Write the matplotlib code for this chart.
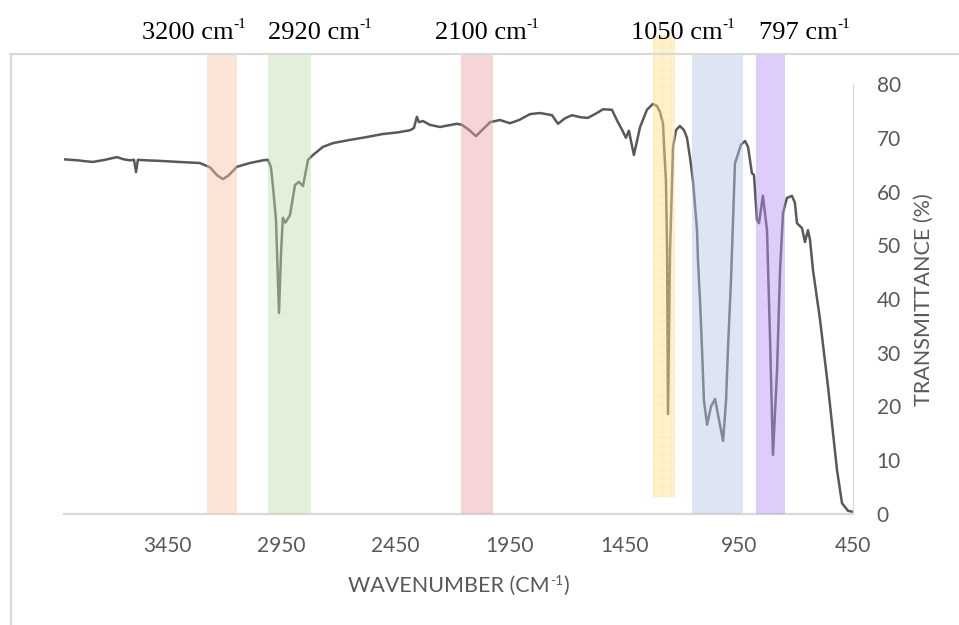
import matplotlib
matplotlib.use("Agg")
import matplotlib.pyplot as plt
from matplotlib.patches import Rectangle
from matplotlib.lines import Line2D

W, H, DPI = 959, 625, 100
INK, FRAME, LINE = "#595959", "#d9d9d9", "#595959"
SANS, SERIF = "Lato", "Liberation Serif"

# FTIR spectrum: wavenumber (cm-1) vs transmittance (%)
WAVENUMBER = [3905, 3840, 3800, 3774, 3720, 3690, 3669, 3640, 3612, 3594, 3585, 3577, 3540, 3481, 3400,
              3306, 3262, 3230, 3205, 3180, 3144, 3087, 3030, 3008, 2995, 2986, 2973, 2960, 2951, 2943,
              2932, 2925, 2912, 2890, 2873, 2855, 2833, 2811, 2768, 2724, 2650, 2580, 2505, 2440, 2387,
              2370, 2357, 2348, 2330, 2300, 2256, 2182, 2160, 2130, 2099, 2070, 2037, 1994, 1950, 1910,
              1862, 1819, 1766, 1740, 1710, 1679, 1640, 1609, 1570, 1543, 1504, 1478, 1460, 1443, 1430,
              1408, 1381, 1351, 1325, 1307, 1294, 1281, 1276, 1268, 1263, 1259, 1250, 1241, 1237, 1224,
              1207, 1189, 1176, 1163, 1150, 1132, 1128, 1119, 1110, 1102, 1088, 1071, 1053, 1036, 1018,
              1005, 997, 984, 979, 966, 957, 940, 922, 909, 892, 883, 870, 861, 844, 826,
              813, 800, 782, 769, 756, 739, 717, 704, 695, 673, 660, 647, 638, 625, 594,
              559, 520, 498, 472, 450]
TRANSMITTANCE = [66.0, 65.8, 65.6, 65.5, 65.9, 66.2, 66.4, 66.0, 65.8, 65.9, 63.6, 65.9, 65.8, 65.7, 65.5,
                 65.3, 64.5, 63.0, 62.3, 63.0, 64.6, 65.3, 65.8, 65.9, 64.5, 60.8, 54.7, 37.4, 48.6, 55.1,
                 54.2, 54.7, 55.6, 61.2, 61.8, 61.0, 65.9, 66.8, 68.3, 69.0, 69.6, 70.1, 70.7, 71.0, 71.4,
                 71.8, 73.9, 72.9, 73.1, 72.4, 72.0, 72.6, 72.4, 71.5, 70.3, 71.5, 72.9, 73.3, 72.7, 73.3,
                 74.4, 74.6, 74.2, 72.6, 73.6, 74.2, 73.8, 73.7, 74.6, 75.3, 75.2, 72.9, 71.5, 70.0, 71.3,
                 66.8, 72.0, 75.2, 76.3, 75.9, 74.8, 72.7, 68.3, 62.1, 49.1, 18.6, 49.0, 62.1, 68.3, 71.4,
                 72.2, 71.4, 70.0, 66.4, 62.1, 52.8, 47.3, 39.8, 30.5, 21.2, 16.6, 20.0, 21.4, 17.5, 13.6,
                 21.2, 30.5, 42.9, 49.1, 65.3, 66.4, 68.7, 69.4, 68.3, 63.4, 63.1, 54.7, 54.1, 59.2, 52.8,
                 33.0, 11.0, 26.8, 45.4, 56.0, 58.8, 59.2, 57.9, 54.1, 53.2, 50.6, 52.8, 51.0, 45.4, 36.1,
                 23.6, 8.2, 2.0, 0.6, 0.4]

# highlighted absorption bands (wavenumber edges) and their tints
BAND_HI = [3275, 3008, 2164, 1325, 1154, 874]
BAND_LO = [3144, 2820, 2024, 1228, 931, 747]
BAND_COLORS = ["#f6c5a4", "#bfdeab", "#e9a2a2", "#ffe28e", "#b3c7e2", "#b68ef2"]
PEAK_LABELS = ["3200", "2920", "2100", "1050", "797"]

X_TICKS = [3450, 2950, 2450, 1950, 1450, 950, 450]
Y_TICKS = [0, 10, 20, 30, 40, 50, 60, 70, 80]

fx = lambda px: px / W
fy = lambda py: 1 - py / H

fig = plt.figure(figsize=(W / DPI, H / DPI), dpi=DPI)
fig.patch.set_facecolor("white")

# outer chart frame (left and top edges)
fig.add_artist(Line2D([fx(10.5), fx(10.5)], [fy(54), fy(625)], transform=fig.transFigure, color=FRAME, lw=1.5))
fig.add_artist(Line2D([fx(10), 1], [fy(54), fy(54)], transform=fig.transFigure, color=FRAME, lw=1.5))

ax = fig.add_axes([fx(64), fy(514), fx(853 - 64), (514 - 54) / H])
ax.set_facecolor("none")
ax.plot(WAVENUMBER, TRANSMITTANCE, color=LINE, lw=1.8, solid_joinstyle="round", zorder=2)
ax.set_xlim(3900, 450)
ax.set_ylim(0, 460 / 5.375)

# bands sit over the trace, semi-transparent
for i, (hi, lo, c) in enumerate(zip(BAND_HI, BAND_LO, BAND_COLORS)):
    if i == 3:
        ax.add_patch(Rectangle((lo, 3.2), hi - lo, 85.9, facecolor=c, alpha=0.45, lw=0, zorder=3, clip_on=False))
        ax.add_patch(Rectangle((lo, 3.2), hi - lo, 85.9, fill=False, edgecolor="#ffd966", hatch="++",
                               alpha=0.18, lw=0, zorder=3, clip_on=False))
    else:
        ax.axvspan(lo, hi, color=c, alpha=0.45, lw=0, zorder=3)

for s in ["top", "left"]:
    ax.spines[s].set_visible(False)
ax.spines["bottom"].set_color(FRAME); ax.spines["bottom"].set_linewidth(1.6)
ax.spines["right"].set_color(FRAME); ax.spines["right"].set_linewidth(0.9)
ax.spines["right"].set_bounds(0, 80)
ax.yaxis.tick_right()
ax.set_xticks(X_TICKS); ax.set_xticklabels([str(t) for t in X_TICKS])
ax.set_yticks(Y_TICKS); ax.set_yticklabels([str(t) for t in Y_TICKS])
ax.tick_params(length=0, labelsize=15, labelcolor=INK)
ax.tick_params(axis="x", pad=16)
ax.tick_params(axis="y", pad=17)
for lab in ax.get_xticklabels() + ax.get_yticklabels():
    lab.set_family(SANS)

renderer = fig.canvas.get_renderer()

def sup_text(x, y, base, sup, tail, family, size, ssize, rise, color, center=False):
    """base text + raised superscript (+ optional tail), baseline at pixel y."""
    parts = [(base, size, 0), (sup, ssize, rise), (tail, size, 0)]
    arts = []
    for txt, fs, r in parts:
        if not txt:
            continue
        t = fig.text(0, 0, txt, fontsize=fs, family=family, color=color, va="baseline", ha="left")
        arts.append((t, r, t.get_window_extent(renderer).width))
    total = sum(w for _, _, w in arts)
    cx = x - total / 2 if center else x
    for t, r, w in arts:
        t.set_position((fx(cx), fy(y - r)))
        cx += w

# peak labels above the bands
LABEL_X = [142, 268, 435, 631, 759]
for lx, lab in zip(LABEL_X, PEAK_LABELS):
    sup_text(lx, 39, f"{lab} cm", "-1", "", SERIF, 19, 11, 11, "black")

# axis titles
sup_text(458.5, 592, "WAVENUMBER (CM", "-1", ")", SANS, 15.5, 10, 7, INK, center=True)
fig.text(fx(924), fy(300), "TRANSMITTANCE (%)", rotation=90, ha="center", va="center",
         fontsize=15.5, family=SANS, color=INK)

fig.savefig("out.png", dpi=DPI, facecolor="white")
